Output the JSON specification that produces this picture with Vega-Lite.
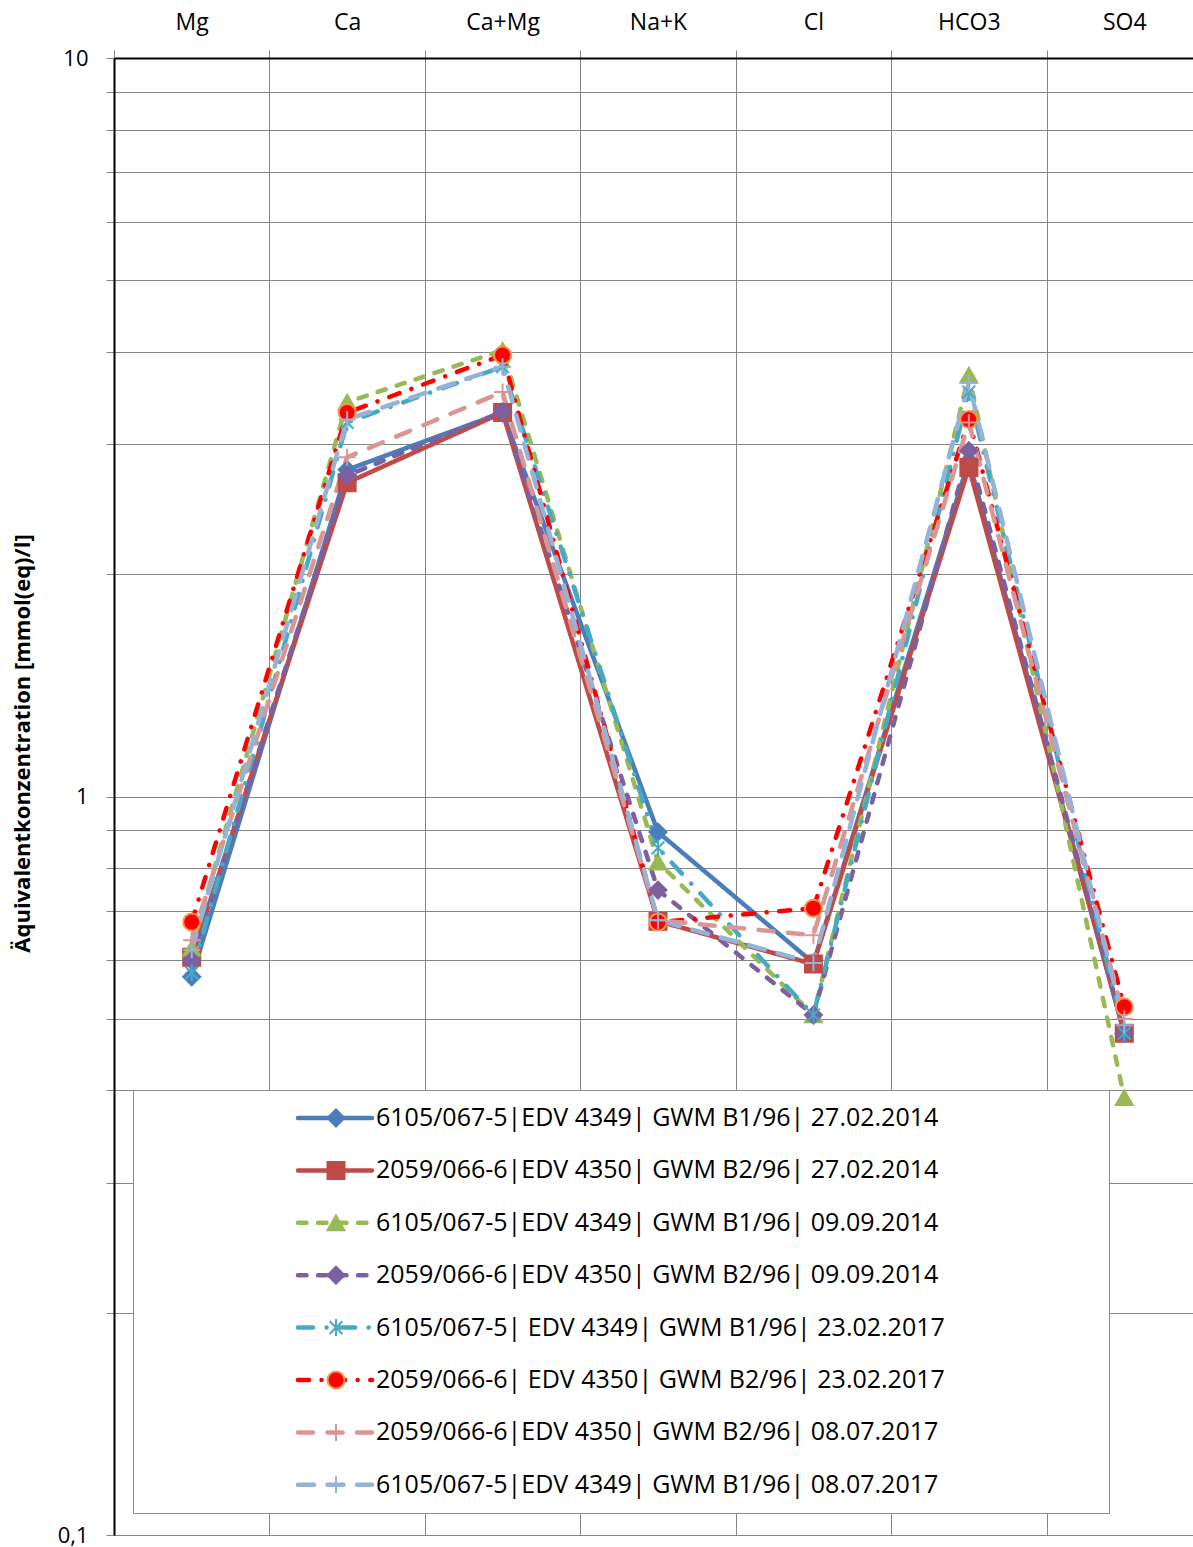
{
  "$schema": "https://vega.github.io/schema/vega-lite/v6.json",
  "width": 1079,
  "height": 1477,
  "autosize": {"type": "none"},
  "padding": {"left": 114, "top": 58, "right": 0, "bottom": 12},
  "background": "white",
  "config": {"view": {"stroke": null}, "font": "Open Sans"},
  "data": {"values": [
    {"s": "6105/067-5|EDV 4349| GWM B1/96| 27.02.2014", "ion": "Mg", "v": 0.57},
    {"s": "6105/067-5|EDV 4349| GWM B1/96| 27.02.2014", "ion": "Ca", "v": 2.77},
    {"s": "6105/067-5|EDV 4349| GWM B1/96| 27.02.2014", "ion": "Ca+Mg", "v": 3.31},
    {"s": "6105/067-5|EDV 4349| GWM B1/96| 27.02.2014", "ion": "Na+K", "v": 0.895},
    {"s": "6105/067-5|EDV 4349| GWM B1/96| 27.02.2014", "ion": "Cl", "v": 0.595},
    {"s": "6105/067-5|EDV 4349| GWM B1/96| 27.02.2014", "ion": "HCO3", "v": 2.85},
    {"s": "6105/067-5|EDV 4349| GWM B1/96| 27.02.2014", "ion": "SO4", "v": 0.478},
    {"s": "2059/066-6|EDV 4350| GWM B2/96| 27.02.2014", "ion": "Mg", "v": 0.606},
    {"s": "2059/066-6|EDV 4350| GWM B2/96| 27.02.2014", "ion": "Ca", "v": 2.66},
    {"s": "2059/066-6|EDV 4350| GWM B2/96| 27.02.2014", "ion": "Ca+Mg", "v": 3.31},
    {"s": "2059/066-6|EDV 4350| GWM B2/96| 27.02.2014", "ion": "Na+K", "v": 0.678},
    {"s": "2059/066-6|EDV 4350| GWM B2/96| 27.02.2014", "ion": "Cl", "v": 0.593},
    {"s": "2059/066-6|EDV 4350| GWM B2/96| 27.02.2014", "ion": "HCO3", "v": 2.79},
    {"s": "2059/066-6|EDV 4350| GWM B2/96| 27.02.2014", "ion": "SO4", "v": 0.478},
    {"s": "6105/067-5|EDV 4349| GWM B1/96| 09.09.2014", "ion": "Mg", "v": 0.623},
    {"s": "6105/067-5|EDV 4349| GWM B1/96| 09.09.2014", "ion": "Ca", "v": 3.42},
    {"s": "6105/067-5|EDV 4349| GWM B1/96| 09.09.2014", "ion": "Ca+Mg", "v": 4.02},
    {"s": "6105/067-5|EDV 4349| GWM B1/96| 09.09.2014", "ion": "Na+K", "v": 0.815},
    {"s": "6105/067-5|EDV 4349| GWM B1/96| 09.09.2014", "ion": "Cl", "v": 0.506},
    {"s": "6105/067-5|EDV 4349| GWM B1/96| 09.09.2014", "ion": "HCO3", "v": 3.72},
    {"s": "6105/067-5|EDV 4349| GWM B1/96| 09.09.2014", "ion": "SO4", "v": 0.391},
    {"s": "2059/066-6|EDV 4350| GWM B2/96| 09.09.2014", "ion": "Mg", "v": 0.6},
    {"s": "2059/066-6|EDV 4350| GWM B2/96| 09.09.2014", "ion": "Ca", "v": 2.72},
    {"s": "2059/066-6|EDV 4350| GWM B2/96| 09.09.2014", "ion": "Ca+Mg", "v": 3.32},
    {"s": "2059/066-6|EDV 4350| GWM B2/96| 09.09.2014", "ion": "Na+K", "v": 0.747},
    {"s": "2059/066-6|EDV 4350| GWM B2/96| 09.09.2014", "ion": "Cl", "v": 0.506},
    {"s": "2059/066-6|EDV 4350| GWM B2/96| 09.09.2014", "ion": "HCO3", "v": 2.94},
    {"s": "2059/066-6|EDV 4350| GWM B2/96| 09.09.2014", "ion": "SO4", "v": 0.478},
    {"s": "6105/067-5| EDV 4349| GWM B1/96| 23.02.2017", "ion": "Mg", "v": 0.577},
    {"s": "6105/067-5| EDV 4349| GWM B1/96| 23.02.2017", "ion": "Ca", "v": 3.21},
    {"s": "6105/067-5| EDV 4349| GWM B1/96| 23.02.2017", "ion": "Ca+Mg", "v": 3.82},
    {"s": "6105/067-5| EDV 4349| GWM B1/96| 23.02.2017", "ion": "Na+K", "v": 0.852},
    {"s": "6105/067-5| EDV 4349| GWM B1/96| 23.02.2017", "ion": "Cl", "v": 0.506},
    {"s": "6105/067-5| EDV 4349| GWM B1/96| 23.02.2017", "ion": "HCO3", "v": 3.53},
    {"s": "6105/067-5| EDV 4349| GWM B1/96| 23.02.2017", "ion": "SO4", "v": 0.478},
    {"s": "2059/066-6| EDV 4350| GWM B2/96| 23.02.2017", "ion": "Mg", "v": 0.676},
    {"s": "2059/066-6| EDV 4350| GWM B2/96| 23.02.2017", "ion": "Ca", "v": 3.31},
    {"s": "2059/066-6| EDV 4350| GWM B2/96| 23.02.2017", "ion": "Ca+Mg", "v": 3.96},
    {"s": "2059/066-6| EDV 4350| GWM B2/96| 23.02.2017", "ion": "Na+K", "v": 0.676},
    {"s": "2059/066-6| EDV 4350| GWM B2/96| 23.02.2017", "ion": "Cl", "v": 0.706},
    {"s": "2059/066-6| EDV 4350| GWM B2/96| 23.02.2017", "ion": "HCO3", "v": 3.24},
    {"s": "2059/066-6| EDV 4350| GWM B2/96| 23.02.2017", "ion": "SO4", "v": 0.519},
    {"s": "2059/066-6|EDV 4350| GWM B2/96| 08.07.2017", "ion": "Mg", "v": 0.639},
    {"s": "2059/066-6|EDV 4350| GWM B2/96| 08.07.2017", "ion": "Ca", "v": 2.88},
    {"s": "2059/066-6|EDV 4350| GWM B2/96| 08.07.2017", "ion": "Ca+Mg", "v": 3.53},
    {"s": "2059/066-6|EDV 4350| GWM B2/96| 08.07.2017", "ion": "Na+K", "v": 0.68},
    {"s": "2059/066-6|EDV 4350| GWM B2/96| 08.07.2017", "ion": "Cl", "v": 0.649},
    {"s": "2059/066-6|EDV 4350| GWM B2/96| 08.07.2017", "ion": "HCO3", "v": 3.21},
    {"s": "2059/066-6|EDV 4350| GWM B2/96| 08.07.2017", "ion": "SO4", "v": 0.5},
    {"s": "6105/067-5|EDV 4349| GWM B1/96| 08.07.2017", "ion": "Mg", "v": 0.62},
    {"s": "6105/067-5|EDV 4349| GWM B1/96| 08.07.2017", "ion": "Ca", "v": 3.24},
    {"s": "6105/067-5|EDV 4349| GWM B1/96| 08.07.2017", "ion": "Ca+Mg", "v": 3.82},
    {"s": "6105/067-5|EDV 4349| GWM B1/96| 08.07.2017", "ion": "Na+K", "v": 0.68},
    {"s": "6105/067-5|EDV 4349| GWM B1/96| 08.07.2017", "ion": "Cl", "v": 0.595},
    {"s": "6105/067-5|EDV 4349| GWM B1/96| 08.07.2017", "ion": "HCO3", "v": 3.63},
    {"s": "6105/067-5|EDV 4349| GWM B1/96| 08.07.2017", "ion": "SO4", "v": 0.49}
  ]},
  "encoding": {
    "x": {
      "field": "ion", "type": "nominal",
      "sort": ["Mg", "Ca", "Ca+Mg", "Na+K", "Cl", "HCO3", "SO4"],
      "bandPosition": 0.5,
      "scale": {"type": "band", "range": [0, 1088], "paddingInner": 0, "paddingOuter": 0},
      "axis": {
        "orient": "top", "title": null, "labelAngle": 0,
        "labelFont": "Open Sans", "labelFontSize": 23, "labelColor": "#000000", "labelPadding": 16,
        "domain": true, "domainColor": "#000000", "domainWidth": 2,
        "ticks": true, "tickBand": "extent", "tickSize": 8, "tickColor": "#868686", "tickWidth": 1,
        "grid": true, "gridColor": "#868686", "gridWidth": 1
      }
    },
    "y": {
      "field": "v", "type": "quantitative",
      "scale": {"type": "log", "domain": [0.1, 10], "nice": false},
      "axis": {
        "orient": "left",
        "values": [0.1, 0.2, 0.3, 0.4, 0.5, 0.6, 0.7, 0.8, 0.9, 1, 2, 3, 4, 5, 6, 7, 8, 9, 10],
        "labelExpr": "datum.value == 10 ? '10' : datum.value == 1 ? '1' : datum.value == 0.1 ? '0,1' : ''",
        "labelFont": "Open Sans", "labelFontSize": 22, "labelColor": "#000000", "labelPadding": 18,
        "domain": true, "domainColor": "#000000", "domainWidth": 2,
        "ticks": true, "tickSize": 8, "tickColor": "#868686",
        "grid": true, "gridColor": "#868686", "gridWidth": 1,
        "title": "Äquivalentkonzentration [mmol(eq)/l]",
        "titleFont": "Open Sans", "titleFontSize": 22, "titleFontWeight": "bold", "titleColor": "#000000",
        "titleX": -92, "titleY": 685, "titleAngle": -90, "titleAlign": "center", "titleBaseline": "middle"
      }
    }
  },
  "layer": [
    {
      "mark": {"type": "line", "strokeWidth": 4.5, "strokeCap": "round", "strokeJoin": "round"},
      "encoding": {
        "color": {
          "field": "s", "type": "nominal",
          "scale": {
            "domain": ["6105/067-5|EDV 4349| GWM B1/96| 27.02.2014", "2059/066-6|EDV 4350| GWM B2/96| 27.02.2014", "6105/067-5|EDV 4349| GWM B1/96| 09.09.2014", "2059/066-6|EDV 4350| GWM B2/96| 09.09.2014", "6105/067-5| EDV 4349| GWM B1/96| 23.02.2017", "2059/066-6| EDV 4350| GWM B2/96| 23.02.2017", "2059/066-6|EDV 4350| GWM B2/96| 08.07.2017", "6105/067-5|EDV 4349| GWM B1/96| 08.07.2017"],
            "range": ["#4A7EBB", "#BE4B48", "#98B954", "#7D60A0", "#46AAC5", "#FF0000", "#D99694", "#95B3D7"]
          },
          "legend": {
            "orient": "none", "legendX": 19, "legendY": 1032, "title": null, "padding": 2,
            "fillColor": "#ffffff", "strokeColor": "#8c8c8c",
            "symbolType": "stroke", "symbolSize": 5476, "symbolStrokeWidth": 4.5, "symbolOffset": 160.5,
            "labelOffset": 1.5, "labelFont": "Open Sans", "labelFontSize": 25, "labelColor": "#000000", "labelLimit": 3000,
            "clipHeight": 52, "rowPadding": 0.4,
            "labelExpr": "datum.label + '\u2800\u2800\u2800\u2800\u2800\u2800\u2800\u2800\u2800'",
            "encode": {"symbols": {"update": {"strokeCap": {"value": "round"}}}}
          }
        },
        "strokeDash": {
          "field": "s", "type": "nominal",
          "scale": {
            "domain": ["6105/067-5|EDV 4349| GWM B1/96| 27.02.2014", "2059/066-6|EDV 4350| GWM B2/96| 27.02.2014", "6105/067-5|EDV 4349| GWM B1/96| 09.09.2014", "2059/066-6|EDV 4350| GWM B2/96| 09.09.2014", "6105/067-5| EDV 4349| GWM B1/96| 23.02.2017", "2059/066-6| EDV 4350| GWM B2/96| 23.02.2017", "2059/066-6|EDV 4350| GWM B2/96| 08.07.2017", "6105/067-5|EDV 4349| GWM B1/96| 08.07.2017"],
            "range": [[1, 0], [1, 0], [8.5, 11.5], [8.5, 11.5], [15, 13.5, 0.1, 13.5], [11, 12.5, 0.1, 12.5], [15, 14.5], [16, 13.5]]
          },
          "legend": {
            "orient": "none", "legendX": 19, "legendY": 1032, "title": null, "padding": 2,
            "fillColor": "#ffffff", "strokeColor": "#8c8c8c",
            "symbolType": "stroke", "symbolSize": 5476, "symbolStrokeWidth": 4.5, "symbolOffset": 160.5,
            "labelOffset": 1.5, "labelFont": "Open Sans", "labelFontSize": 25, "labelColor": "#000000", "labelLimit": 3000,
            "clipHeight": 52, "rowPadding": 0.4,
            "labelExpr": "datum.label + '\u2800\u2800\u2800\u2800\u2800\u2800\u2800\u2800\u2800'",
            "encode": {"symbols": {"update": {"strokeCap": {"value": "round"}}}}
          }
        }
      }
    },
    {
      "mark": {"type": "point", "filled": true, "opacity": 1, "strokeWidth": 2, "size": 289},
      "encoding": {
        "fill": {
          "field": "s", "type": "nominal", "sort": null,
          "scale": {"range": ["#4A7EBB", "#BE4B48", "#98B954", "#7D60A0", "transparent", "#FF0000", "transparent", "transparent"]},
          "legend": {
            "orient": "none", "legendX": 19, "legendY": 1032, "title": null, "padding": 2,
            "symbolSize": 289, "symbolStrokeWidth": 2, "symbolOffset": 188.5,
            "labelFontSize": 25, "labelExpr": "''", "clipHeight": 52, "rowPadding": 0.4
          }
        },
        "stroke": {
          "field": "s", "type": "nominal", "sort": null,
          "scale": {"range": ["#4A7EBB", "#BE4B48", "#98B954", "#7D60A0", "#46AAC5", "#F79646", "#D99694", "#95B3D7"]},
          "legend": {
            "orient": "none", "legendX": 19, "legendY": 1032, "title": null, "padding": 2,
            "symbolSize": 289, "symbolStrokeWidth": 2, "symbolOffset": 188.5,
            "labelFontSize": 25, "labelExpr": "''", "clipHeight": 52, "rowPadding": 0.4
          }
        },
        "shape": {
          "field": "s", "type": "nominal", "sort": null,
          "scale": {"range": ["diamond", "square", "triangle-up", "diamond", "M-0.75,-0.75L0.75,0.75M-0.75,0.75L0.75,-0.75M0,-1L0,1", "circle", "M-1,0L1,0M0,-1L0,1", "M-1,0L1,0M0,-1L0,1"]},
          "legend": {
            "orient": "none", "legendX": 19, "legendY": 1032, "title": null, "padding": 2,
            "symbolSize": 289, "symbolStrokeWidth": 2, "symbolOffset": 188.5,
            "labelFontSize": 25, "labelExpr": "''", "clipHeight": 52, "rowPadding": 0.4
          }
        }
      }
    }
  ]
}
